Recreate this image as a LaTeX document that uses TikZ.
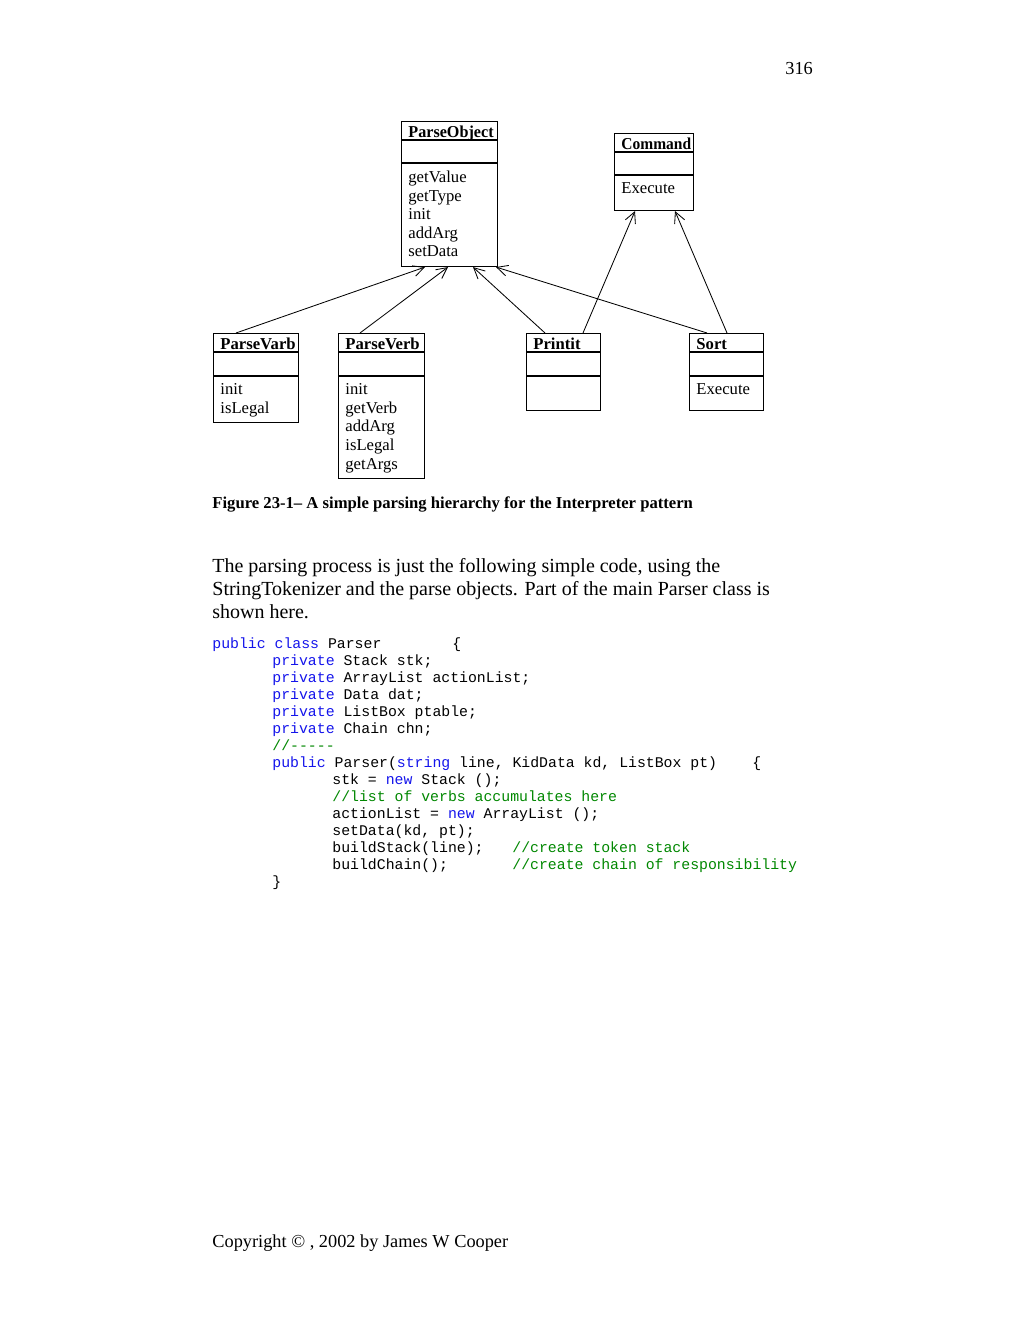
\documentclass[tikz,border=0pt]{standalone}
\usepackage{fontspec}
\setmainfont{Liberation Serif}
\setmonofont{Liberation Mono}
\usepackage{xcolor}
\usepackage{graphicx}
\usetikzlibrary{positioning,arrows.meta}

\newlength{\pxu}
\setlength{\pxu}{0.59824bp}
\definecolor{kwblue}{RGB}{20,20,235}
\definecolor{cmgreen}{RGB}{0,135,0}
\newcommand{\kw}[1]{\textcolor{kwblue}{#1}}
\newcommand{\cm}[1]{\textcolor{cmgreen}{#1}}

\begin{document}
\begin{tikzpicture}[%
    x=\pxu,
    y=-\pxu,
    ->,
    >={Straight Barb[length=6.5pt,width=6.5pt]},
    line width=0.5pt,
    classbox/.style={%
      rectangle,
      draw,
      line width=0.65pt,
      anchor=north west,
      inner sep=0pt
    },
    classname/.style={%
      anchor=base west,
      inner sep=0pt,
      font=\fontsize{10}{11.2}\selectfont\bfseries
    },
    classops/.style={%
      anchor=base west,
      inner sep=0pt,
      align=left,
      font=\fontsize{10}{11.2}\selectfont
    },
    sep/.style={-,line width=0.65pt}
  ]
    \useasboundingbox (0,0) rectangle (1023,1324);

    % page number
    \node[anchor=base west, inner sep=0pt, font=\fontsize{11}{13}\selectfont] (page) at (785,75) {316};

    % classes
    \node[classbox, minimum width=96\pxu, minimum height=145\pxu] (po) at (401,121) {};
    \node[classbox, minimum width=79\pxu, minimum height=77\pxu] (cmd) at (614,133) {};
    \node[classbox, minimum width=85\pxu, minimum height=89\pxu] (pvarb) at (213,333) {};
    \node[classbox, minimum width=86\pxu, minimum height=145\pxu] (pverb) at (338,333) {};
    \node[classbox, minimum width=74\pxu, minimum height=77\pxu] (printit) at (526,333) {};
    \node[classbox, minimum width=74\pxu, minimum height=77\pxu] (sort) at (689,333) {};

    \draw[sep] ([yshift=-19\pxu]po.north west) -- ([yshift=-19\pxu]po.north east);
    \draw[sep] ([yshift=-42\pxu]po.north west) -- ([yshift=-42\pxu]po.north east);
    \draw[sep] ([yshift=-19\pxu]cmd.north west) -- ([yshift=-19\pxu]cmd.north east);
    \draw[sep] ([yshift=-42\pxu]cmd.north west) -- ([yshift=-42\pxu]cmd.north east);
    \draw[sep] ([yshift=-19\pxu]pvarb.north west) -- ([yshift=-19\pxu]pvarb.north east);
    \draw[sep] ([yshift=-43\pxu]pvarb.north west) -- ([yshift=-43\pxu]pvarb.north east);
    \draw[sep] ([yshift=-19\pxu]pverb.north west) -- ([yshift=-19\pxu]pverb.north east);
    \draw[sep] ([yshift=-43\pxu]pverb.north west) -- ([yshift=-43\pxu]pverb.north east);
    \draw[sep] ([yshift=-19\pxu]printit.north west) -- ([yshift=-19\pxu]printit.north east);
    \draw[sep] ([yshift=-43\pxu]printit.north west) -- ([yshift=-43\pxu]printit.north east);
    \draw[sep] ([yshift=-19\pxu]sort.north west) -- ([yshift=-19\pxu]sort.north east);
    \draw[sep] ([yshift=-43\pxu]sort.north west) -- ([yshift=-43\pxu]sort.north east);

    % class texts (base of a list = its last line)
    \node[classname] (po-name) at ([shift={(7,17)}]po.north west) {\scalebox{0.97}[1]{ParseObject}};
    \node[classops] (po-ops) at ([shift={(7,136)}]po.north west) {getValue\\getType\\init\\addArg\\setData};
    \node[classname] (cmd-name) at ([shift={(7,17)}]cmd.north west) {\scalebox{0.93}[1]{Command}};
    \node[classops] (cmd-ops) at ([shift={(7,61)}]cmd.north west) {Execute};
    \node[classname] (pvarb-name) at ([shift={(7,17)}]pvarb.north west) {ParseVarb};
    \node[classops] (pvarb-ops) at ([shift={(7,80)}]pvarb.north west) {init\\isLegal};
    \node[classname] (pverb-name) at ([shift={(7,17)}]pverb.north west) {ParseVerb};
    \node[classops] (pverb-ops) at ([shift={(7,136)}]pverb.north west) {init\\getVerb\\addArg\\isLegal\\getArgs};
    \node[classname] (printit-name) at ([shift={(7,17)}]printit.north west) {Printit};
    \node[classname] (sort-name) at ([shift={(7,17)}]sort.north west) {Sort};
    \node[classops] (sort-ops) at ([shift={(7,61)}]sort.north west) {Execute};

    % inheritance
    \draw ([xshift=23\pxu]pvarb.north west) -- ([xshift=24\pxu]po.south west);
    \draw ([xshift=22\pxu]pverb.north west) -- ([xshift=47\pxu]po.south west);
    \draw ([xshift=19\pxu]printit.north west) -- ([xshift=72\pxu]po.south west);
    \draw ([xshift=18\pxu]sort.north west) -- ([xshift=95\pxu]po.south west);
    \draw ([xshift=57\pxu]printit.north west) -- ([xshift=21\pxu]cmd.south west);
    \draw ([xshift=38\pxu]sort.north west) -- ([xshift=61\pxu]cmd.south west);

    % caption and text
    \node[anchor=base west, inner sep=0pt, font=\fontsize{10}{11.5}\selectfont\bfseries] (caption) at (212,508)
      {Figure 23-1– A simple parsing hierarchy for the Interpreter pattern};
    \node[anchor=base west, inner sep=0pt, align=left, font=\fontsize{12}{13.76}\selectfont] (para) at (212,618)
      {The parsing process is just the following simple code, using the\\
       StringTokenizer and the parse objects. Part of the main Parser class is\\
       shown here.};

    % code listing
    \node[anchor=base west, inner sep=0pt, align=left, font=\ttfamily\fontsize{8.9}{10.17}\selectfont] (code) at (212,886)
      {\makebox[240\pxu][l]{\kw{public class} Parser}\{\\
       \hspace*{60\pxu}\kw{private} Stack stk;\\
       \hspace*{60\pxu}\kw{private} ArrayList actionList;\\
       \hspace*{60\pxu}\kw{private} Data dat;\\
       \hspace*{60\pxu}\kw{private} ListBox ptable;\\
       \hspace*{60\pxu}\kw{private} Chain chn;\\
       \hspace*{60\pxu}\cm{//-{}-{}-{}-{}-}\\
       \hspace*{60\pxu}\makebox[480\pxu][l]{\kw{public} Parser(\kw{string} line, KidData kd, ListBox pt)}\{\\
       \hspace*{120\pxu}stk = \kw{new} Stack ();\\
       \hspace*{120\pxu}\cm{//list of verbs accumulates here}\\
       \hspace*{120\pxu}actionList = \kw{new} ArrayList ();\\
       \hspace*{120\pxu}setData(kd, pt);\\
       \hspace*{120\pxu}\makebox[180\pxu][l]{buildStack(line);}\cm{//create token stack}\\
       \hspace*{120\pxu}\makebox[180\pxu][l]{buildChain();}\cm{//create chain of responsibility}\\
       \hspace*{60\pxu}\}};

    % footer
    \node[anchor=base west, inner sep=0pt, font=\fontsize{11}{13}\selectfont] (footer) at (212,1247)
      {Copyright © , 2002 by James W Cooper};
  \end{tikzpicture}
\end{document}
